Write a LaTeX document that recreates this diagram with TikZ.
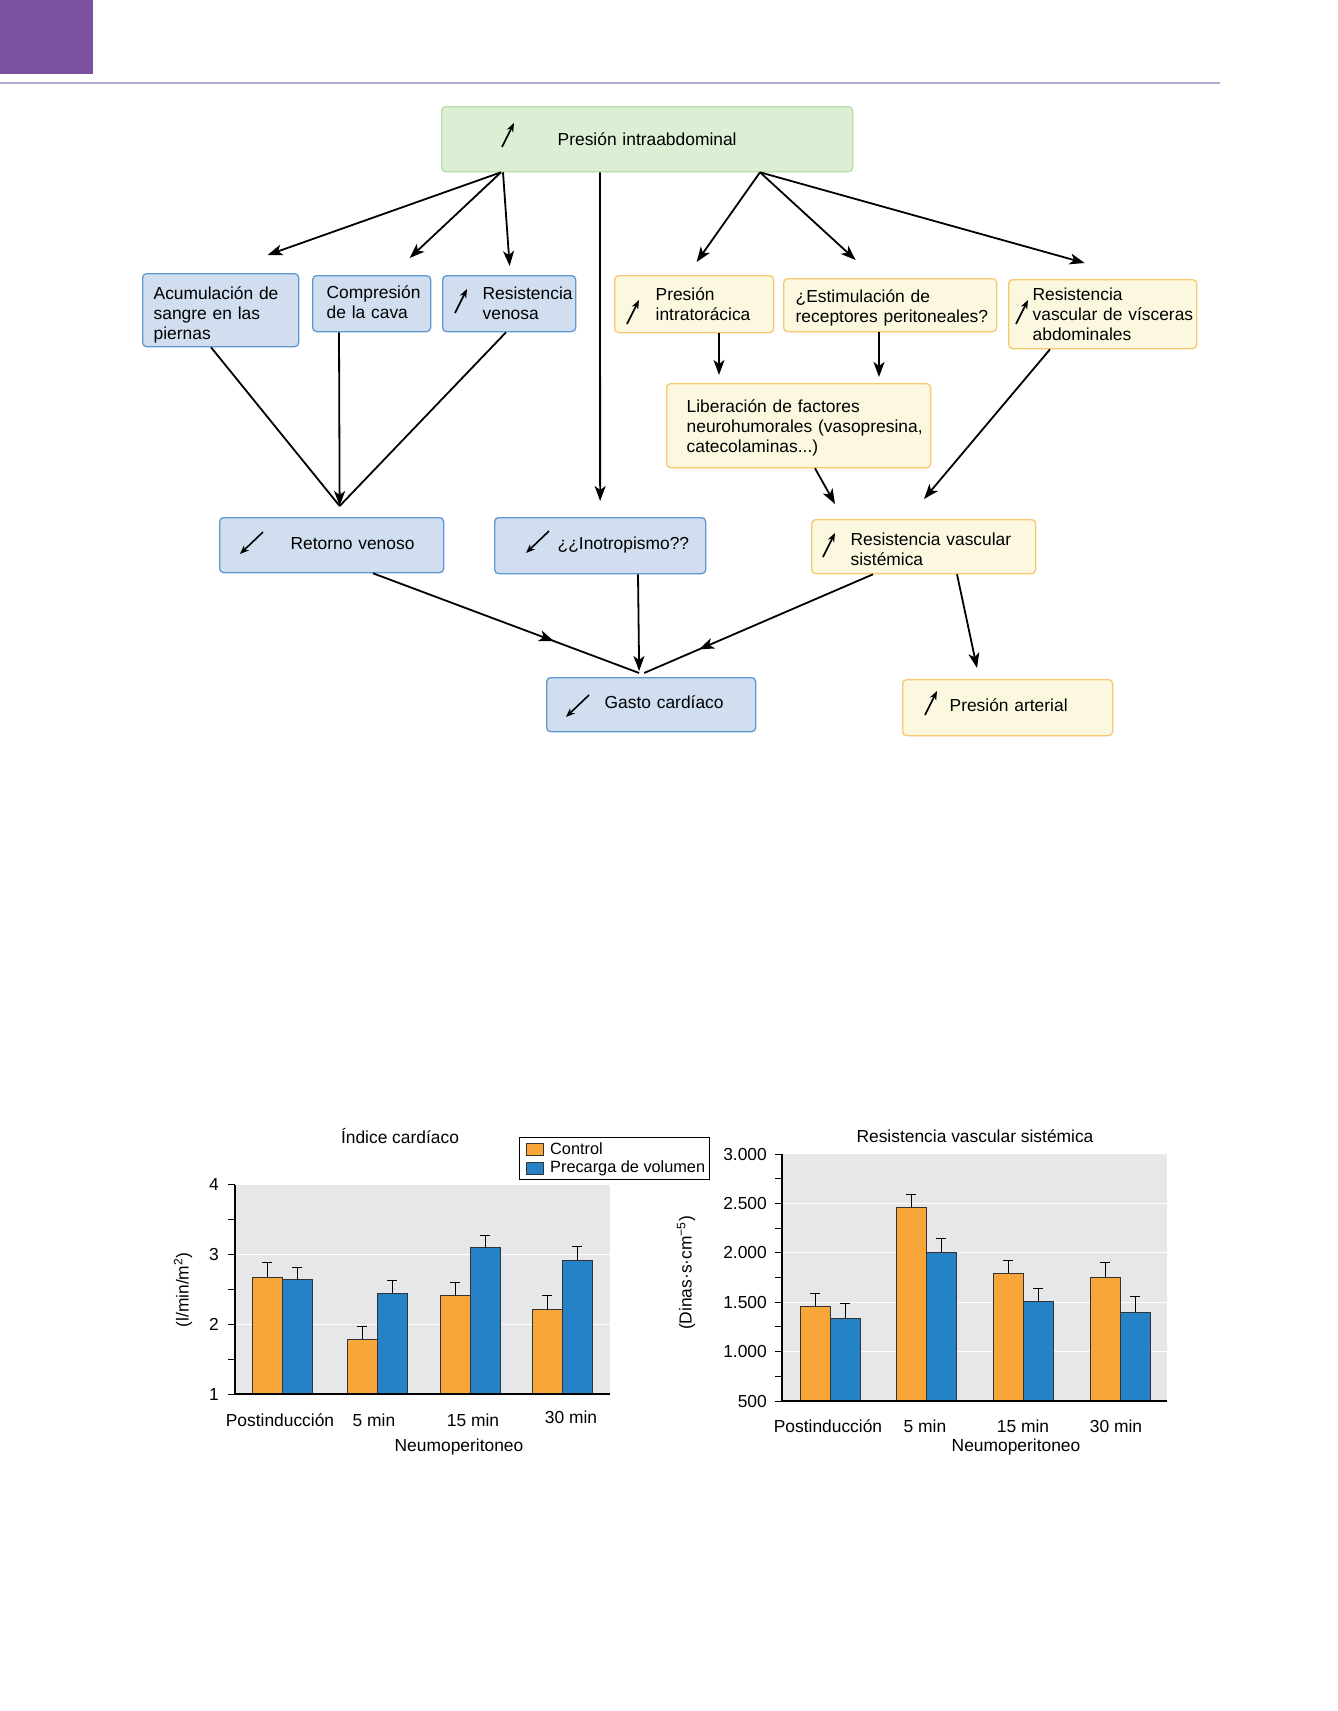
\documentclass[tikz,border=0pt]{standalone}
\usepackage{fontspec}
\setmainfont{Liberation Sans}
\usetikzlibrary{arrows.meta,calc,decorations.markings}

\begin{document}
\begin{tikzpicture}[x=1pt,y=-1pt,
  font=\fontsize{17.4}{20}\selectfont,
  caja/.style={draw,rounded corners=4pt,line width=1.3pt,inner xsep=0pt,inner ysep=2pt,anchor=north west},
  azul/.style={caja,fill=cajaazul,draw=bordeazul},
  amarillo/.style={caja,fill=cajaamarilla,draw=bordeamarillo},
  linea/.style={line width=1.8pt},
  flecha/.style={linea,-{Stealth[length=15pt,width=11pt,inset=4pt]}},
  media/.style={linea,postaction={decorate},
    decoration={markings,mark=at position #1 with {\arrow{Stealth[length=15pt,width=11pt,inset=4pt]}}}},
  icono/.style={line width=1.6pt,-{Stealth[length=9pt,width=7pt]}},
  barra/.style={draw=black!80,line width=0.7pt}]

\definecolor{morado}{RGB}{124,82,160}
\definecolor{lila}{RGB}{178,168,206}
\definecolor{cajaverde}{RGB}{220,239,213}
\definecolor{bordeverde}{RGB}{184,220,168}
\definecolor{cajaazul}{RGB}{208,222,240}
\definecolor{bordeazul}{RGB}{96,152,210}
\definecolor{cajaamarilla}{RGB}{252,248,224}
\definecolor{bordeamarillo}{RGB}{246,200,112}
\definecolor{fondo}{RGB}{230,231,233}
\definecolor{naranja}{RGB}{248,166,58}
\definecolor{azulbarra}{RGB}{38,130,198}

\useasboundingbox (0,0) rectangle (1338,1711);
\fill[white] (0,0) rectangle (1338,1711);

\fill[morado] (0,0) rectangle (93,74);
\draw[lila,line width=2pt] (0,83) -- (1220,83);

\newcommand{\subeicon}[3]{\draw[icono] ($(#1.north west)+(#2,#3)$) -- ++(12,-24);}
\newcommand{\bajaicon}[3]{\draw[icono] ($(#1.north west)+(#2,#3)$) -- ++(-23,22);}
\newcommand{\texto}[3][0pt]{\hspace*{#2}\raisebox{#1}[\height][\depth]{\begin{tabular}{@{}l@{}}#3\end{tabular}}}

% esquema
\node[caja,fill=cajaverde,draw=bordeverde,align=center,text width=411pt,minimum height=65pt] (pia) at (441,106) {Presión intraabdominal};

\node[azul,text width=156pt,minimum height=73pt] (acu) at (142,273) {\texto[-5pt]{11pt}{Acumulación de\\sangre en las\\piernas}};
\node[azul,text width=118pt,minimum height=56pt] (cava) at (312,275) {\texto[-1pt]{14pt}{Compresión\\de la cava}};
\node[azul,text width=133pt,minimum height=56pt] (rven) at (442,275) {\texto[-2pt]{40pt}{Resistencia\\venosa}};
\node[amarillo,text width=159pt,minimum height=57pt] (pit) at (614,275) {\texto[-2pt]{41pt}{Presión\\intratorácica}};
\node[amarillo,text width=213pt,minimum height=53pt] (est) at (783,278) {\texto[-3pt]{12pt}{¿Estimulación de\\receptores peritoneales?}};
\node[amarillo,text width=188pt,minimum height=69pt] (vis) at (1008,279) {\texto[-2pt]{24pt}{Resistencia\\vascular de vísceras\\abdominales}};
\node[amarillo,text width=264pt,minimum height=84pt] (lib) at (666,383) {\texto[-3pt]{20pt}{Liberación de factores\\neurohumorales (vasopresina,\\catecolaminas...)}};
\node[azul,text width=224pt,minimum height=55pt] (rv) at (219,517) {\texto{71pt}{Retorno venoso}};
\node[azul,text width=211pt,minimum height=56pt] (ino) at (494,517) {\texto{63pt}{¿¿Inotropismo??}};
\node[amarillo,text width=224pt,minimum height=54pt] (rvs) at (811,519) {\texto[-5pt]{39pt}{Resistencia vascular\\sistémica}};
\node[azul,text width=209pt,minimum height=54pt] (gc) at (546,677) {\texto{58pt}{Gasto cardíaco}};
\node[amarillo,text width=210pt,minimum height=56pt] (pa) at (902,679) {\texto{47pt}{Presión arterial}};

\subeicon{pia}{61}{41}
\subeicon{rven}{13}{38}
\subeicon{pit}{13}{49}
\subeicon{vis}{8}{45}
\subeicon{rvs}{12}{38}
\subeicon{pa}{23}{36}
\bajaicon{rv}{44}{15}
\bajaicon{ino}{55}{14}
\bajaicon{gc}{43}{18}

\draw[flecha] ([xshift=60pt]pia.south west) -- ([xshift=47pt,yshift=18pt]acu.north);
\draw[flecha] ([xshift=60pt]pia.south west) -- ([xshift=38pt,yshift=17pt]cava.north);
\draw[flecha] ([xshift=62pt]pia.south west) -- ([xshift=0.5pt,yshift=9pt]rven.north);
\draw[flecha] ([xshift=159pt]pia.south west) -- ([yshift=16pt]ino.north);
\draw[flecha] ([xshift=319pt]pia.south west) -- ([xshift=2.5pt,yshift=13pt]pit.north);
\draw[flecha] ([xshift=319pt]pia.south west) -- ([xshift=-34.5pt,yshift=18pt]est.north);
\draw[flecha] ([xshift=319pt]pia.south west) -- ([xshift=-18pt,yshift=16pt]vis.north);

\draw[linea] ([xshift=69pt]acu.south west) -- ([xshift=8pt,yshift=11pt]rv.north);
\draw[flecha] ([xshift=27pt]cava.south west) -- ([xshift=8pt,yshift=11pt]rv.north);
\draw[linea] ([xshift=64pt]rven.south west) -- ([xshift=8pt,yshift=11pt]rv.north);

\draw[flecha] ([xshift=105pt]pit.south west) -- ([xshift=53pt,yshift=8pt]lib.north west);
\draw[flecha] ([xshift=96pt]est.south west) -- ([xshift=213pt,yshift=6pt]lib.north west);
\draw[flecha] ([xshift=149pt]lib.south west) -- ([xshift=24pt,yshift=15pt]rvs.north west);
\draw[flecha] ([xshift=42pt]vis.south west) -- ([xshift=113pt,yshift=20pt]rvs.north west);

\draw[media=0.68] ([xshift=154pt]rv.south west) -- ([xshift=-12pt,yshift=4pt]gc.north);
\draw[flecha] ([xshift=144pt]ino.south west) -- ([xshift=-12pt,yshift=6pt]gc.north);
\draw[media=0.76] ([xshift=62pt]rvs.south west) -- ([xshift=-7pt,yshift=4pt]gc.north);
\draw[flecha] ([xshift=146pt]rvs.south west) -- ([xshift=75pt,yshift=11pt]pa.north west);

% indice cardiaco
\node (tic) at (400,1136) {Índice cardíaco};
\fill[fondo] (235,1185) rectangle (610,1394);
\begin{scope}[shift={(0,1394)},y=69.7pt]
  \foreach \v in {1,2}
    \draw[white,line width=1pt] (235,\v) -- (610,\v);
  \foreach \c/\o/\oe/\b/\be in {282/2.68/2.88/2.64/2.82,377/1.79/1.97/2.45/2.63,470/2.41/2.60/3.10/3.28,562/2.21/2.41/2.92/3.12}{
    \filldraw[barra,fill=naranja] (\c-30,0) rectangle (\c,\o-1);
    \filldraw[barra,fill=azulbarra] (\c,0) rectangle (\c+30,\b-1);
    \draw[line width=1pt] (\c-15,\o-1) -- (\c-15,\oe-1) (\c-20,\oe-1) -- (\c-10,\oe-1);
    \draw[line width=1pt] (\c+15,\b-1) -- (\c+15,\be-1) (\c+10,\be-1) -- (\c+20,\be-1);
  }
  \foreach \v in {0,0.5,...,3}
    \draw[line width=1pt] (228,\v) -- (235,\v);
  \draw[line width=1.5pt] (235,3) -- (235,0) -- (610,0);
  \foreach \v in {1,...,4}
    \node[anchor=east,inner sep=0pt] (ic\v) at (219,\v-1) {\v};
\end{scope}
\node[rotate=90] (eic) at (183,1290) {(l/min/m\textsuperscript{2})};
\node (xa1) at (280,1420) {Postinducción};
\node (xa2) at (374,1420) {5 min};
\node (xa3) at (473,1420) {15 min};
\node (xa4) at (571,1417) {30 min};
\node (xa5) at (459,1447) {Neumoperitoneo};

% leyenda
\draw[line width=1pt] (519,1137) rectangle (709,1179);
\filldraw[barra,fill=naranja] (526,1143) rectangle (543,1155);
\filldraw[barra,fill=azulbarra] (526,1162) rectangle (543,1174);
\node[anchor=west,inner sep=0pt,font=\fontsize{16.3}{19}\selectfont] (lc) at (550,1149) {Control};
\node[anchor=west,inner sep=0pt,font=\fontsize{16.3}{19}\selectfont] (lp) at (550,1168) {Precarga de volumen};

% resistencia vascular sistemica
\node (trvs) at (975,1136) {Resistencia vascular sistémica};
\fill[fondo] (782,1154) rectangle (1167,1401);
\begin{scope}[shift={(0,1401)},y=0.0988pt]
  \foreach \v in {1000,1500,2000,2500}
    \draw[white,line width=1pt] (782,\v-500) -- (1167,\v-500);
  \foreach \c/\o/\oe/\b/\be in {830/1461/1593/1340/1482,926/2463/2595/2008/2140,1023/1795/1927/1512/1634,1120/1755/1897/1400/1553}{
    \filldraw[barra,fill=naranja] (\c-30,0) rectangle (\c,\o-500);
    \filldraw[barra,fill=azulbarra] (\c,0) rectangle (\c+30,\b-500);
    \draw[line width=1pt] (\c-15,\o-500) -- (\c-15,\oe-500) (\c-20,\oe-500) -- (\c-10,\oe-500);
    \draw[line width=1pt] (\c+15,\b-500) -- (\c+15,\be-500) (\c+10,\be-500) -- (\c+20,\be-500);
  }
  \foreach \v in {0,250,...,2500}
    \draw[line width=1pt] (775,\v) -- (782,\v);
  \draw[line width=1.5pt] (782,2500) -- (782,0) -- (1167,0);
  \foreach \v/\t in {500/500,1000/1.000,1500/1.500,2000/2.000,2500/2.500,3000/3.000}
    \node[anchor=east,inner sep=0pt] (rt\v) at (767,\v-500) {\t};
\end{scope}
\node[rotate=90] (ervs) at (686,1273) {(Dinas·s·cm\textsuperscript{−5})};
\node (xb1) at (828,1426) {Postinducción};
\node (xb2) at (925,1426) {5 min};
\node (xb3) at (1023,1426) {15 min};
\node (xb4) at (1116,1426) {30 min};
\node (xb5) at (1016,1447) {Neumoperitoneo};

\end{tikzpicture}
\end{document}
